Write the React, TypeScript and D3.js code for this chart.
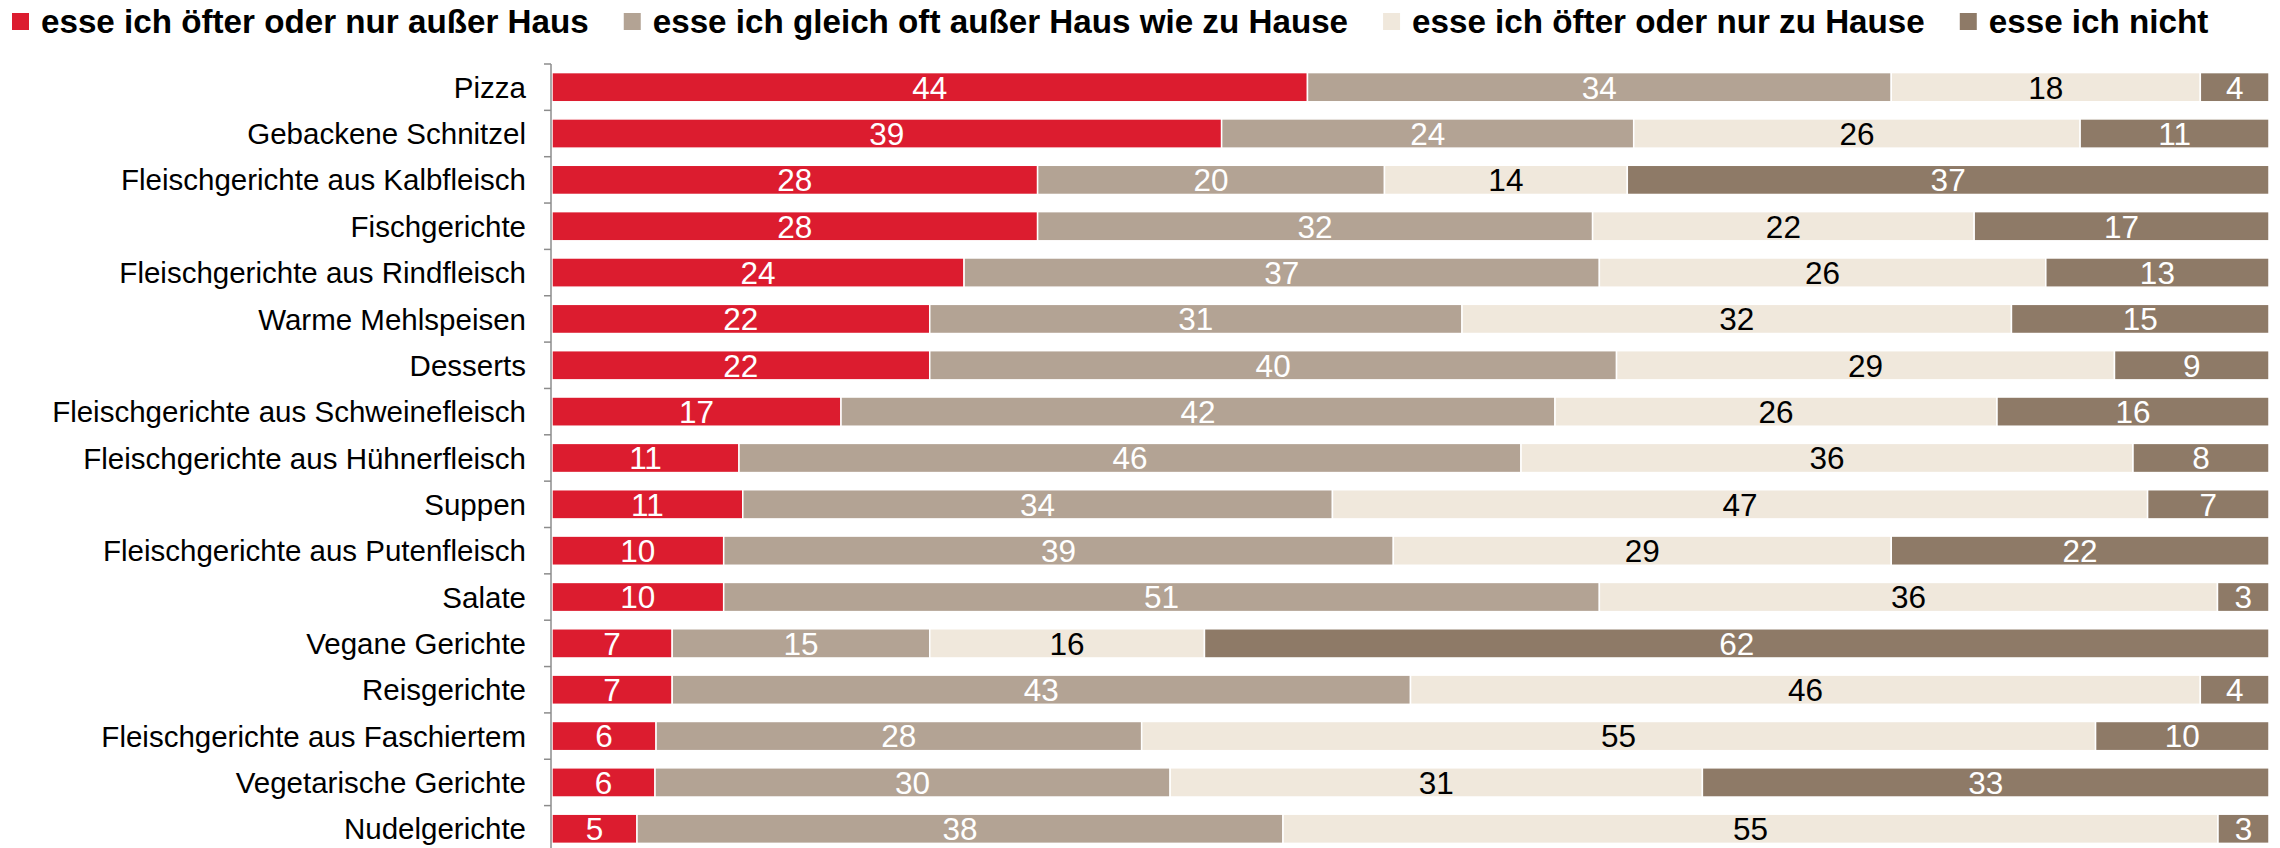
import React, { useMemo } from 'react';
import * as d3 from 'd3';

const categories = [
  'Pizza',
  'Gebackene Schnitzel',
  'Fleischgerichte aus Kalbfleisch',
  'Fischgerichte',
  'Fleischgerichte aus Rindfleisch',
  'Warme Mehlspeisen',
  'Desserts',
  'Fleischgerichte aus Schweinefleisch',
  'Fleischgerichte aus Hühnerfleisch',
  'Suppen',
  'Fleischgerichte aus Putenfleisch',
  'Salate',
  'Vegane Gerichte',
  'Reisgerichte',
  'Fleischgerichte aus Faschiertem',
  'Vegetarische Gerichte',
  'Nudelgerichte',
];

const seriesNames = [
  'esse ich öfter oder nur außer Haus',
  'esse ich gleich oft außer Haus wie zu Hause',
  'esse ich öfter oder nur zu Hause',
  'esse ich nicht',
];

const outside = [44, 39, 28, 28, 24, 22, 22, 17, 11, 11, 10, 10, 7, 7, 6, 6, 5];
const equal = [34, 24, 20, 32, 37, 31, 40, 42, 46, 34, 39, 51, 15, 43, 28, 30, 38];
const home = [18, 26, 14, 22, 26, 32, 29, 26, 36, 47, 29, 36, 16, 46, 55, 31, 55];
const never = [4, 11, 37, 17, 13, 15, 9, 16, 8, 7, 22, 3, 62, 4, 10, 33, 3];

const colors = ['#DC1C2F', '#B3A394', '#F0E8DC', '#8E7A67'];
const labelColors = ['#FFFFFF', '#FFFFFF', '#000000', '#FFFFFF'];

const W = 2280;
const H = 848;
const FONT = "'Liberation Sans', Arial, sans-serif";

function measure(text: string, font: string): number {
  const c = document.createElement('canvas');
  const ctx = c.getContext('2d');
  if (!ctx) return text.length * 18;
  ctx.font = font;
  return ctx.measureText(text).width;
}

export default function App() {
  const keys = ['s0', 's1', 's2', 's3'];
  const rows = categories.map((c, i) => ({
    cat: c,
    s0: outside[i],
    s1: equal[i],
    s2: home[i],
    s3: never[i],
  }));

  const stacked = d3
    .stack<any>()
    .keys(keys)
    .offset(d3.stackOffsetExpand)(rows);

  const axisX = 551;
  const x = d3.scaleLinear().domain([0, 1]).range([axisX + 1, 2269]);
  const y = d3
    .scaleBand<string>()
    .domain(categories)
    .range([64, 64 + 46.35 * categories.length])
    .paddingInner(0.37)
    .paddingOuter(0.185);

  const step = y.step();
  const bounds = d3.range(categories.length + 1).map((i) => 64 + i * step);

  const legendFont = `bold 33.2px ${FONT}`;
  const legendItems = useMemo(() => {
    let cx = 12;
    return seriesNames.map((name, i) => {
      const w = measure(name, legendFont);
      const item = { name, i, sx: cx, tx: cx + 29 };
      cx = cx + 29 + w + 35;
      return item;
    });
  }, []);

  return (
    <div style={{ position: 'absolute', left: 0, top: 0, width: W, height: H, background: '#fff' }}>
      <svg width={W} height={H} style={{ display: 'block' }}>
        <rect x={0} y={0} width={W} height={H} fill="#fff" />
        {/* legend */}
        <g>
          {legendItems.map((it) => (
            <g key={it.name}>
              <rect x={it.sx} y={13} width={17} height={17} fill={colors[it.i]} />
              <text
                x={it.tx}
                y={33}
                fontFamily={FONT}
                fontWeight="bold"
                fontSize={33.2}
                fill="#000"
              >
                {it.name}
              </text>
            </g>
          ))}
        </g>

        {/* bars */}
        {stacked.map((layer, si) => (
          <g key={keys[si]}>
            {layer.map((d, ci) => {
              const cat = categories[ci];
              const x0 = x(d[0]);
              const x1 = x(d[1]);
              const yy = y(cat)!;
              return (
                <rect
                  key={cat}
                  x={x0}
                  y={yy}
                  width={Math.max(0, x1 - x0)}
                  height={y.bandwidth()}
                  fill={colors[si]}
                  stroke="#fff"
                  strokeWidth={1.5}
                />
              );
            })}
          </g>
        ))}

        {/* value labels */}
        {stacked.map((layer, si) => (
          <g key={'l' + keys[si]}>
            {layer.map((d, ci) => {
              const cat = categories[ci];
              const v = (d.data as any)[keys[si]];
              const cx = (x(d[0]) + x(d[1])) / 2;
              const cy = y(cat)! + y.bandwidth() / 2;
              return (
                <text
                  key={cat}
                  x={cx}
                  y={cy}
                  dy="0.36em"
                  textAnchor="middle"
                  fontFamily={FONT}
                  fontSize={31.5}
                  fill={labelColors[si]}
                >
                  {v}
                </text>
              );
            })}
          </g>
        ))}

        {/* axis */}
        <line x1={axisX} x2={axisX} y1={bounds[0]} y2={H} stroke="#8c8c8c" strokeWidth={1.5} />
        {bounds.map((b, i) => (
          <line key={i} x1={axisX - 7} x2={axisX} y1={b} y2={b} stroke="#8c8c8c" strokeWidth={1.5} />
        ))}

        {/* category labels */}
        {categories.map((c) => (
          <text
            key={c}
            x={526}
            y={y(c)! + y.bandwidth() / 2}
            dy="0.36em"
            textAnchor="end"
            fontFamily={FONT}
            fontSize={29.5}
            fill="#000"
          >
            {c}
          </text>
        ))}
      </svg>
    </div>
  );
}
